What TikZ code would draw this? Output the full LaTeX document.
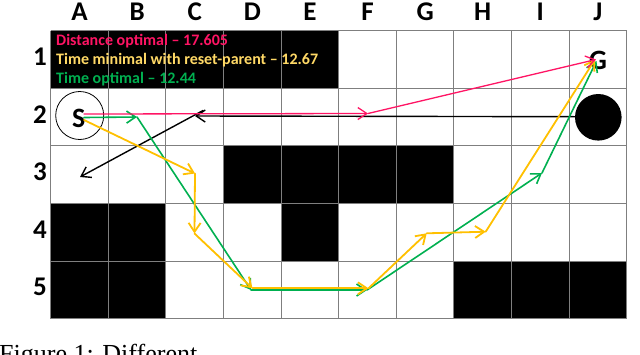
\documentclass[tikz,border=0pt]{standalone}
\usepackage{fontspec}
\setmainfont{Carlito}
\newfontfamily\capfont{Liberation Serif}
\usetikzlibrary{arrows.meta}
\definecolor{pinkc}{HTML}{FF1464}
\definecolor{yelc}{HTML}{FFC000}
\definecolor{yeltxt}{HTML}{FFD966}
\definecolor{grnc}{HTML}{00B050}
\definecolor{gridc}{HTML}{7F7F7F}
\begin{document}
\begin{tikzpicture}[x=1pt,y=-1pt,
  gridline/.style={draw=gridc,line width=1pt},
  blk/.style={fill=black},
  lbl/.style={font=\fontsize{27}{27}\selectfont\bfseries,inner sep=0pt,anchor=base},
  leg/.style={font=\fontsize{16}{19}\selectfont\bfseries,inner sep=0pt,anchor=base west},
  sg/.style={font=\fontsize{28}{28}\selectfont\bfseries,inner sep=0pt},
  arr/.style={-{Straight Barb[length=9pt,width=12pt]},line cap=round,line join=round},
  pinkpath/.style={arr,draw=pinkc,line width=1.3pt},
  yelpath/.style={arr,draw=yelc,line width=1.8pt},
  grnpath/.style={arr,draw=grnc,line width=1.6pt},
  blkpath/.style={arr,draw=black,line width=1.4pt}]
\useasboundingbox (0,0) rectangle (640,354);
\clip (0,0) rectangle (640,354);
\fill[white] (0,0) rectangle (640,354);
% black cells
\foreach \i/\j in {0/0,1/0,2/0,3/0,4/0,3/2,4/2,5/2,6/2,0/3,1/3,4/3,0/4,1/4,7/4,8/4,9/4}
  \fill[blk] ({50.7+\i*57.6},{30.7+\j*57.6}) rectangle ++(57.6,57.6);
% grid
\foreach \i in {0,...,10}
  \draw[gridline] ({50.7+\i*57.6},30.7) -- ({50.7+\i*57.6},318.7);
\foreach \j in {0,...,5}
  \draw[gridline] (50.7,{30.7+\j*57.6}) -- (626.7,{30.7+\j*57.6});
% labels
\foreach \l [count=\i from 0] in {A,B,C,D,E,F,G,H,I,J}
  \node[lbl] (col-\l) at ({79.5+\i*57.6},20.7) {\l};
\foreach \r [count=\j from 0] in {1,2,3,4,5}
  \node[lbl] (row-\r) at (40,{65.5+\j*57.6}) {\r};
% legend
\node[leg,text=pinkc] (leg1) at (56,45) {Distance optimal – 17.605};
\node[leg,text=yeltxt] (leg2) at (56,64.3) {Time minimal with reset-parent – 12.67};
\node[leg,text=grnc] (leg3) at (56,83.3) {Time optimal – 12.44};
% start, goal, obstacle
\node[draw,circle,line width=0.8pt,minimum size=48pt,inner sep=0pt] (Sc) at (79.7,115.5) {};
\node[sg] (S) at (78.7,118.3) {S};
\node[sg] (G) at (598,60) {G};
\node[fill=black,circle,minimum size=46.6pt,inner sep=0pt] (obs) at (598.3,117.3) {};
% path points
\coordinate (p0) at (84,114);
\coordinate (p1) at (368,113.5);
\coordinate (p2) at (596,59.5);
\coordinate (b0) at (576,116.7);
\coordinate (b1) at (195,116);
\coordinate (b2) at (203,110.5);
\coordinate (b3) at (80,177);
\coordinate (g0) at (84,117.5);
\coordinate (g1) at (137,117);
\coordinate (g2) at (251,290);
\coordinate (g3) at (367,290);
\coordinate (g4) at (542,173);
\coordinate (g5) at (596.5,61);
\coordinate (y0) at (84,120);
\coordinate (y1) at (195,173.5);
\coordinate (y2) at (194.5,233.5);
\coordinate (y3) at (252.5,288.3);
\coordinate (y4) at (368.5,288.3);
\coordinate (y5) at (426.7,233.3);
\coordinate (y6) at (485.7,231.7);
\coordinate (y7) at (595,59.5);
% obstacle motion
\draw[blkpath] (b0) -- (b1);
\draw[blkpath] (b2) -- (b3);
% time optimal
\foreach \a/\b in {g0/g1,g1/g2,g2/g3,g3/g4,g4/g5}
  \draw[grnpath] (\a) -- (\b);
% reset-parent
\foreach \a/\b in {y0/y1,y1/y2,y2/y3,y3/y4,y4/y5,y5/y6,y6/y7}
  \draw[yelpath] (\a) -- (\b);
% distance optimal
\draw[pinkpath] (p0) -- (p1);
\draw[pinkpath] (p1) -- (p2);
% caption (cut by the page edge)
\node[anchor=base west,inner sep=0pt,font=\capfont\fontsize{26}{26}\selectfont] (cap) at (-1,362.5) {Figure 1: Different};
\end{tikzpicture}
\end{document}
